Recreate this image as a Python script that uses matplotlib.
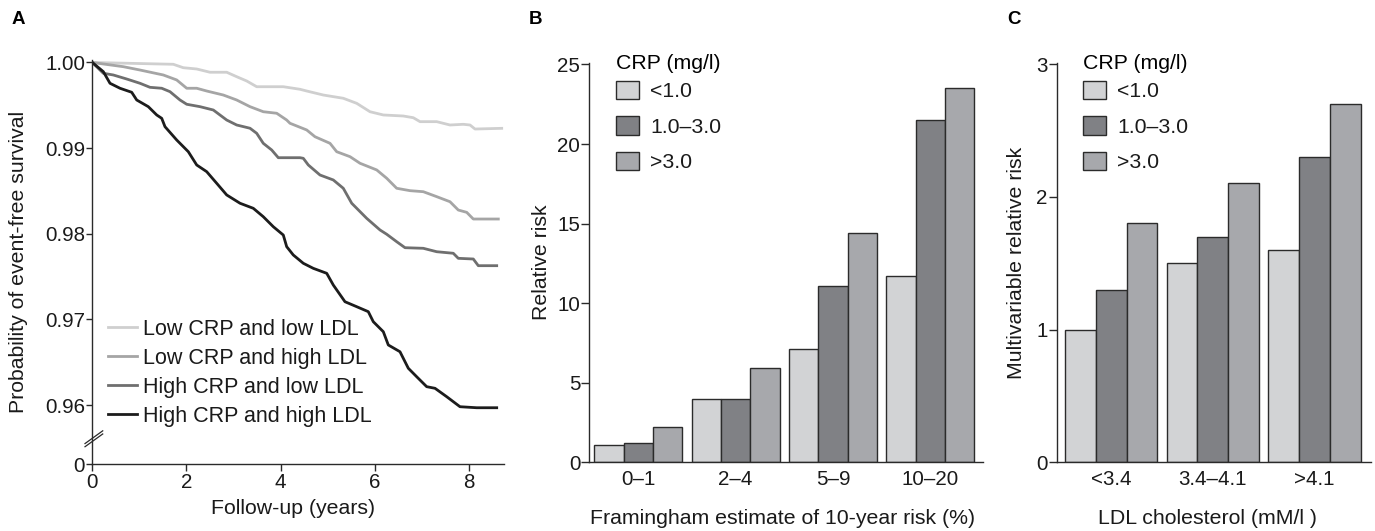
import matplotlib
matplotlib.use("Agg")
import matplotlib.pyplot as plt
import numpy as np

plt.rcParams['font.family'] = ['Liberation Sans', 'DejaVu Sans']

# ---------------- Panel A data (Kaplan-Meier curves) ----------------
a_labels = ["Low CRP and low LDL", "Low CRP and high LDL",
            "High CRP and low LDL", "High CRP and high LDL"]

t_low_low = [0, 1.720, 1.932, 2.217, 2.499, 2.854, 3.066, 3.279, 3.491, 4.056,
             4.411, 4.553, 4.906, 5.330, 5.615, 5.897, 6.180, 6.604, 6.817, 6.959,
             7.314, 7.596, 7.878, 8.021, 8.127, 8.694]
s_low_low = [1.0, 0.99979, 0.99939, 0.99924, 0.99886, 0.99886, 0.99834, 0.99784, 0.99717, 0.99717,
             0.99687, 0.99667, 0.99620, 0.99582, 0.99523, 0.99425, 0.99387, 0.99375, 0.99355, 0.99309,
             0.99309, 0.99270, 0.99278, 0.99270, 0.99223, 0.99231]

t_low_high = [0, 0.658, 1.013, 1.508, 1.792, 2.005, 2.217, 2.429, 2.782, 3.066,
              3.349, 3.631, 3.916, 4.128, 4.198, 4.553, 4.729, 5.048, 5.190, 5.473,
              5.685, 6.040, 6.252, 6.464, 6.747, 7.029, 7.314, 7.596, 7.772, 7.951,
              8.091, 8.622]
s_low_high = [1.0, 0.99951, 0.99912, 0.99854, 0.99796, 0.99699, 0.99699, 0.99667, 0.99620, 0.99562,
              0.99484, 0.99425, 0.99407, 0.99328, 0.99290, 0.99212, 0.99133, 0.99056, 0.98958, 0.98900,
              0.98823, 0.98745, 0.98648, 0.98531, 0.98503, 0.98491, 0.98433, 0.98374, 0.98277, 0.98250,
              0.98172, 0.98172]

t_high_low = [0, 0.234, 0.446, 0.731, 1.013, 1.225, 1.474, 1.650, 1.862, 2.005,
              2.287, 2.570, 2.854, 3.066, 3.349, 3.491, 3.631, 3.810, 3.950, 4.411,
              4.481, 4.587, 4.835, 5.118, 5.330, 5.509, 5.827, 6.110, 6.252, 6.464,
              6.641, 7.029, 7.314, 7.666, 7.772, 8.091, 8.197, 8.588]
s_high_low = [1.0, 0.99874, 0.99854, 0.99807, 0.99757, 0.99710, 0.99699, 0.99659, 0.99562, 0.99512,
              0.99484, 0.99445, 0.99328, 0.99270, 0.99232, 0.99173, 0.99056, 0.98978, 0.98888, 0.98888,
              0.98881, 0.98803, 0.98686, 0.98628, 0.98531, 0.98356, 0.98180, 0.98044, 0.97994, 0.97907,
              0.97837, 0.97830, 0.97790, 0.97772, 0.97713, 0.97705, 0.97627, 0.97627]

t_high_high = [0, 0.234, 0.376, 0.588, 0.837, 0.943, 1.189, 1.368, 1.474, 1.544,
               1.792, 2.039, 2.217, 2.429, 2.642, 2.854, 3.137, 3.419, 3.631, 3.844,
               4.056, 4.128, 4.268, 4.481, 4.693, 4.978, 5.118, 5.366, 5.615, 5.861,
               5.967, 6.180, 6.286, 6.534, 6.711, 6.889, 7.101, 7.278, 7.526, 7.808,
               8.163, 8.588]
s_high_high = [1.0, 0.99893, 0.99757, 0.99699, 0.99652, 0.99562, 0.99484, 0.99387, 0.99348, 0.99250,
               0.99095, 0.98958, 0.98803, 0.98725, 0.98589, 0.98453, 0.98356, 0.98297, 0.98199, 0.98082,
               0.97985, 0.97849, 0.97752, 0.97655, 0.97596, 0.97538, 0.97401, 0.97206, 0.97148, 0.97090,
               0.96973, 0.96856, 0.96701, 0.96622, 0.96429, 0.96330, 0.96214, 0.96195, 0.96097, 0.95980,
               0.95968, 0.95968]

a_xticks = [0, 2, 4, 6, 8]
a_yticks = [1.00, 0.99, 0.98, 0.97, 0.96]
a_ytick_labels = ["1.00", "0.99", "0.98", "0.97", "0.96"]

# ---------------- Panel B data ----------------
b_categories = ["0\u20131", "2\u20134", "5\u20139", "10\u201320"]
b_lt1 = [1.1, 4.0, 7.1, 11.7]
b_1to3 = [1.2, 4.0, 11.1, 21.5]
b_gt3 = [2.2, 5.9, 14.4, 23.5]
b_yticks = [0, 5, 10, 15, 20, 25]

# ---------------- Panel C data ----------------
c_categories = ["<3.4", "3.4\u20134.1", ">4.1"]
c_lt1 = [1.0, 1.5, 1.6]
c_1to3 = [1.3, 1.7, 2.3]
c_gt3 = [1.8, 2.1, 2.7]
c_yticks = [0, 1, 2, 3]

crp_labels = ["<1.0", "1.0\u20133.0", ">3.0"]

# ---------------- Styling / layout ----------------
W, H = 1375, 531
fig = plt.figure(figsize=(W / 100, H / 100), dpi=100)

SPINE = '#2a2a2a'
TICK_FS = 14.8
LABEL_FS = 15.3
LEG_FS = 15.5
line_colors = ['#cfcfcf', '#a5a5a5', '#6f6f6f', '#1c1c1c']
bar_colors = ['#d2d3d5', '#808185', '#a7a8ac']
BAR_EDGE = '#2b2b2b'


def px_axes(left, top, right, bottom):
    return fig.add_axes([left / W, 1 - bottom / H, (right - left) / W, (bottom - top) / H])


def style_axes(ax):
    for s in ['top', 'right']:
        ax.spines[s].set_visible(False)
    for s in ['left', 'bottom']:
        ax.spines[s].set_color(SPINE)
        ax.spines[s].set_linewidth(1.0)
    ax.tick_params(colors=SPINE, labelcolor='#1a1a1a', labelsize=TICK_FS, width=1.0)


# ---------------- Panel A ----------------
axA = px_axes(92.3, 60, 504, 464)
style_axes(axA)
y_break = 0.95311
curves = [(t_low_low, s_low_low), (t_low_high, s_low_high),
          (t_high_low, s_high_low), (t_high_high, s_high_high)]
for (t, s), c, lab in zip(curves, line_colors, a_labels):
    axA.plot(t, s, color=c, lw=2.0, label=lab, solid_joinstyle='round')
axA.set_xlim(0, 8.743)
axA.set_ylim(y_break, 1.00029)
axA.set_xticks(a_xticks)
axA.set_xticklabels([str(v) for v in a_xticks])
axA.set_yticks(a_yticks + [y_break])
axA.set_yticklabels(a_ytick_labels + ["0"])
axA.tick_params(axis='y', length=4, pad=1.2)
axA.tick_params(axis='x', length=4.8, pad=1.9)
axA.set_xlabel("Follow-up (years)", fontsize=LABEL_FS, color='#1a1a1a')
axA.set_ylabel("Probability of event-free survival", fontsize=LABEL_FS, color='#1a1a1a')
axA.xaxis.set_label_coords(0.488, -0.086)
axA.yaxis.set_label_coords(-0.1797, 0.5)
axA.yaxis.label.set_verticalalignment('center')
axA.xaxis.label.set_verticalalignment('top')
# axis break marks
for dy in (0.0, 0.0078):
    axA.plot([-0.0177, 0.0253], [0.0428 + dy, 0.0743 + dy], transform=axA.transAxes,
             clip_on=False, color=SPINE, lw=0.9)
legA = axA.legend(loc='upper left', bbox_to_anchor=(108 / W, 1 - 319 / H),
                  bbox_transform=fig.transFigure, frameon=False, borderpad=0,
                  borderaxespad=0, handlelength=1.35, handletextpad=0.28,
                  labelspacing=0.37, fontsize=LEG_FS)
for txt in legA.get_texts():
    txt.set_color('#1a1a1a')

fig.text(18.3 / W, 1 - 20 / H, "A", fontsize=13.5, fontweight='bold', ha='center', va='center')


# ---------------- Bar panel helper ----------------
def bar_panel(ax, cats, series, width, yticks, ylim_top, xlim, ylabel, xlabel,
              xlabel_x, ylabel_x, leg_left):
    style_axes(ax)
    x = np.arange(len(cats))
    offsets = [-width, 0, width]
    for vals, off, col, lab in zip(series, offsets, bar_colors, crp_labels):
        ax.bar(x + off, vals, width=width, color=col, edgecolor=BAR_EDGE,
               linewidth=1.0, label=lab, zorder=2)
    ax.set_xlim(*xlim)
    ax.set_ylim(0, ylim_top)
    ax.set_xticks(x)
    ax.set_xticklabels(cats)
    ax.set_yticks(yticks)
    ax.set_yticklabels([str(v) for v in yticks])
    ax.tick_params(axis='x', length=0, pad=5.3)
    ax.tick_params(axis='y', length=5.5, pad=1.0)
    ax.set_xlabel(xlabel, fontsize=LABEL_FS, color='#1a1a1a')
    ax.set_ylabel(ylabel, fontsize=LABEL_FS, color='#1a1a1a')
    ax.xaxis.set_label_coords(xlabel_x, -0.118)
    ax.xaxis.label.set_verticalalignment('top')
    ax.yaxis.set_label_coords(ylabel_x, 0.5)
    ax.yaxis.label.set_verticalalignment('center')
    leg = ax.legend(loc='upper left', bbox_to_anchor=(leg_left / W, 1 - 54 / H),
                    bbox_transform=fig.transFigure, frameon=False, borderpad=0,
                    borderaxespad=0, handlelength=1.08, handleheight=0.94,
                    handletextpad=0.52, labelspacing=0.72, fontsize=LABEL_FS,
                    title="CRP (mg/l)", title_fontsize=LABEL_FS, alignment='left')
    try:
        leg._legend_box.sep = 5.5
    except Exception:
        pass
    for txt in leg.get_texts():
        txt.set_color('#1a1a1a')
    return ax


axB = px_axes(589.3, 62.7, 983.3, 462.3)
bar_panel(axB, b_categories, [b_lt1, b_1to3, b_gt3], 0.301, b_yticks, 25.11,
          (-0.503, 3.545), "Relative risk", "Framingham estimate of 10-year risk (%)",
          0.49, -0.1208, 616)
fig.text(535 / W, 1 - 20 / H, "B", fontsize=13.5, fontweight='bold', ha='center', va='center')

axC = px_axes(1056.7, 62.7, 1370.7, 462.3)
bar_panel(axC, c_categories, [c_lt1, c_1to3, c_gt3], 0.303, c_yticks, 3.0098,
          (-0.536, 2.553), "Multivariable relative risk", "LDL cholesterol (mM/l )",
          0.48, -0.1274, 1083)
fig.text(1014.5 / W, 1 - 20 / H, "C", fontsize=13.5, fontweight='bold', ha='center', va='center')

fig.savefig("out.png", dpi=100)
